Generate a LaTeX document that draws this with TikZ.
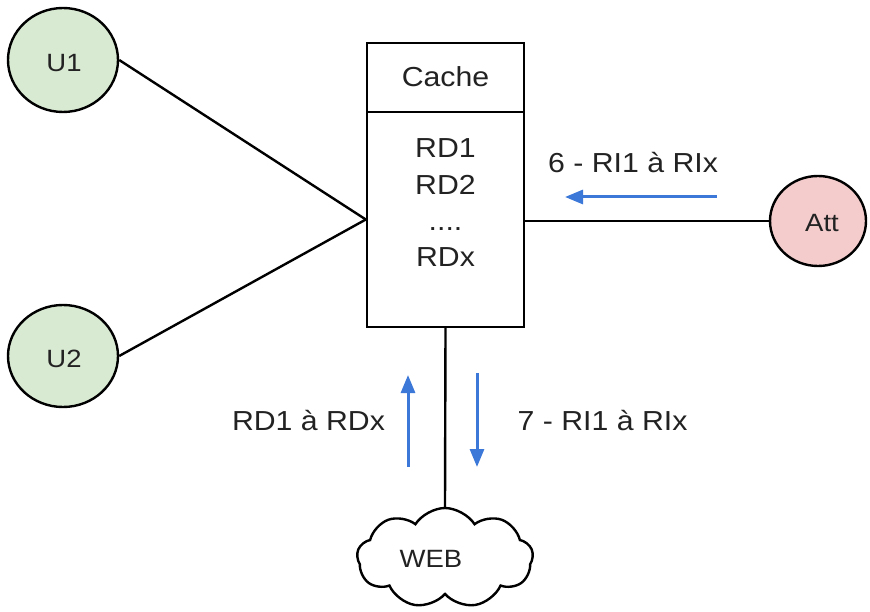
\documentclass[tikz,border=0pt]{standalone}
\usepackage{fontspec}
\setmainfont[FakeStretch=1.1]{Liberation Sans}
\usetikzlibrary{shapes.geometric,shapes.symbols,arrows.meta}
\definecolor{ugreen}{HTML}{D9EAD3}
\definecolor{ared}{HTML}{F4CCCC}
\definecolor{flow}{HTML}{3C78D8}
\definecolor{ink}{HTML}{222222}
\begin{document}
\begin{tikzpicture}[x=1pt,y=-1pt,
  big/.style={font=\fontsize{27.5}{32}\selectfont, text=ink, inner sep=0pt},
  small/.style={font=\fontsize{25}{29}\selectfont, text=ink, inner sep=0pt},
  actor/.style={ellipse, draw=black, line width=2.4pt, inner sep=0pt},
  box/.style={rectangle, draw=black, line width=2.4pt, inner sep=0pt},
  wire/.style={draw=black, line width=2.4pt},
  flowarrow/.style={draw=flow, line width=3pt, -{Triangle[length=18pt,width=14pt]}}
]
\useasboundingbox (0,0) rectangle (870,612);
% actors
\node[actor, fill=ugreen, minimum width=110pt, minimum height=104pt] (u1) at (63,60) {};
\node[actor, fill=ugreen, minimum width=110pt, minimum height=102pt] (u2) at (63,356) {};
\node[actor, fill=ared, minimum width=96pt, minimum height=90pt] (att) at (818,221) {};
\node[small, anchor=base] (u1t) at (64,72) {U1};
\node[small, anchor=base] (u2t) at (64,367) {U2};
\node[small, anchor=base] (attt) at (822,232) {Att};
% cache
\node[box, minimum width=157pt, minimum height=69pt] (head) at (445.5,77.5) {};
\node[box, minimum width=157pt, minimum height=215pt] (body) at (445.5,219.5) {};
\node[big, anchor=base] (cache) at (445.5,87) {Cache};
\node[big, anchor=base] (rd1) at (445.5,158) {RD1};
\node[big, anchor=base] (rd2) at (445.5,195) {RD2};
\node[big, anchor=base] (dots) at (445.5,231) {....};
\node[big, anchor=base] (rdx) at (445.5,267) {RDx};
% web
\node[cloud, draw=black, line width=2.4pt, cloud puffs=9, cloud puff arc=115, aspect=1.7,
      minimum width=176pt, minimum height=100pt, inner sep=0pt] (web) at (445,558) {};
\node[small, anchor=base] (webt) at (431,567) {WEB};
% wires
\draw[wire] (u1.east) -- (body.west);
\draw[wire] (u2.east) -- (body.west);
\draw[wire] (att.west) -- (body.east |- att.west);
\draw[wire] (body.south) -- (web.north);
% flows
\coordinate (a6s) at (717,197);
\coordinate (a6e) at (565,197);
\coordinate (aus) at (408,467);
\coordinate (aue) at (408,375);
\coordinate (ads) at (477,373);
\coordinate (ade) at (477,467);
\draw[flowarrow] (a6s) -- (a6e);
\draw[flowarrow] (aus) -- (aue);
\draw[flowarrow] (ads) -- (ade);
\node[big, anchor=base] (l6) at (633,173) {6 - RI1 à RIx};
\node[big, anchor=base] (lrd) at (308.5,430) {RD1 à RDx};
\node[big, anchor=base] (l7) at (602.5,430) {7 - RI1 à RIx};
\end{tikzpicture}
\end{document}
